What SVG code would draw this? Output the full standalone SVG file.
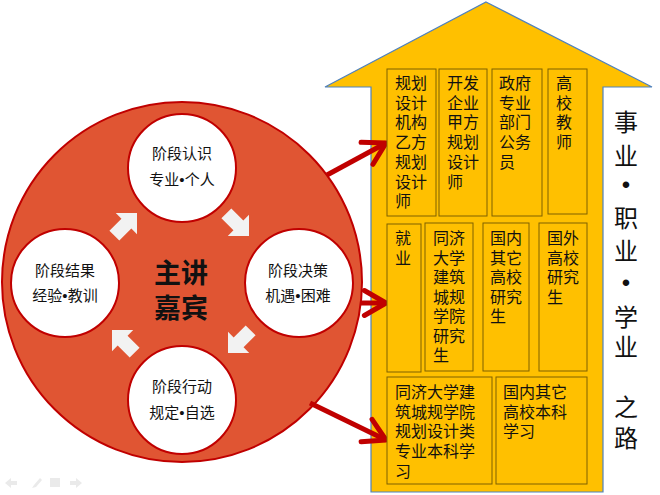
<svg xmlns="http://www.w3.org/2000/svg" width="660" height="495" viewBox="0 0 660 495">
<defs>
<style>
.cjk{font-family:"Noto Sans CJK SC","Noto Sans",sans-serif;fill:#111;}
.dot{font-family:"Liberation Sans","Noto Sans CJK SC",sans-serif;}
.circ{fill:#fff;stroke:#C00000;stroke-width:2;}
.ctext{font-size:15px;text-anchor:middle;}
.box{fill:#FFC000;stroke:#7F6000;stroke-width:1;}
.btext{font-size:16px;}
.side{font-size:24px;text-anchor:middle;}
.blk{fill:#F2F2F2;}
.red{stroke:#C00000;stroke-width:5;fill:none;marker-end:url(#ah);}
.ui{fill:#EAEAEA;}
</style>
<marker id="ah" markerUnits="userSpaceOnUse" viewBox="0 -16 32 32" refX="28" refY="0" markerWidth="32" markerHeight="32" orient="auto">
<path d="M6.4,-12.5 L28,0 L6.4,12.5" fill="none" stroke="#C00000" stroke-width="5" stroke-linejoin="round" stroke-linecap="round"/>
</marker>
<path id="blkArrow" d="M0,0 L-15,-15 L-15,-7 L-32,-7 L-32,7 L-15,7 L-15,15 Z"/>
</defs>
<rect width="660" height="495" fill="#fff"/>

<g id="house">
<polygon points="486,2 652,87 603,87 603,492 371,492 371,87 325,87" fill="#FFC000" stroke="#4F81BD" stroke-width="1.2"/>
</g>

<g id="hub">
<circle cx="182" cy="282" r="180" fill="#E05533" stroke="#C00000" stroke-width="2"/>
<text class="cjk" x="181" y="283" font-size="27" font-weight="bold" text-anchor="middle">主讲</text>
<text class="cjk" x="181" y="318" font-size="27" font-weight="bold" text-anchor="middle">嘉宾</text>
</g>

<g id="stage-recognize">
<circle class="circ" cx="182" cy="168" r="54"/>
<text class="cjk ctext" x="182" y="158.5">阶段认识</text>
<text class="cjk ctext" x="182" y="184.5">专业<tspan class="dot">•</tspan>个人</text>
</g>
<g id="stage-decide">
<circle class="circ" cx="299" cy="283" r="54"/>
<text class="cjk ctext" x="298" y="275.5">阶段决策</text>
<text class="cjk ctext" x="298" y="300.5">机遇<tspan class="dot">•</tspan>困难</text>
</g>
<g id="stage-act">
<circle class="circ" cx="182" cy="400" r="54"/>
<text class="cjk ctext" x="182" y="391.5">阶段行动</text>
<text class="cjk ctext" x="182" y="417.5">规定<tspan class="dot">•</tspan>自选</text>
</g>
<g id="stage-result">
<circle class="circ" cx="65" cy="283" r="54"/>
<text class="cjk ctext" x="65" y="275.5">阶段结果</text>
<text class="cjk ctext" x="65" y="300.5">经验<tspan class="dot">•</tspan>教训</text>
</g>

<g id="cycle-arrows">
<use href="#blkArrow" class="blk" transform="translate(137,213) rotate(-45)"/>
<use href="#blkArrow" class="blk" transform="translate(249,236) rotate(45)"/>
<use href="#blkArrow" class="blk" transform="translate(228,353) rotate(135)"/>
<use href="#blkArrow" class="blk" transform="translate(112,330) rotate(-135)"/>
</g>

<g id="connectors">
<line class="red" x1="327" y1="175" x2="386" y2="143"/>
<line class="red" x1="361" y1="303" x2="386" y2="303"/>
<line class="red" x1="310" y1="403" x2="386" y2="440"/>
</g>

<g id="box-planning-firm">
<rect class="box" x="387" y="69" width="49" height="147"/>
<text class="cjk btext" x="395" y="89"><tspan x="395">规划</tspan><tspan x="395" dy="19.7">设计</tspan><tspan x="395" dy="19.7">机构</tspan><tspan x="395" dy="19.7">乙方</tspan><tspan x="395" dy="19.7">规划</tspan><tspan x="395" dy="19.7">设计</tspan><tspan x="395" dy="19.7">师</tspan></text>
</g>
<g id="box-developer">
<rect class="box" x="439" y="69" width="48" height="147"/>
<text class="cjk btext" x="447" y="89"><tspan x="447">开发</tspan><tspan x="447" dy="19.7">企业</tspan><tspan x="447" dy="19.7">甲方</tspan><tspan x="447" dy="19.7">规划</tspan><tspan x="447" dy="19.7">设计</tspan><tspan x="447" dy="19.7">师</tspan></text>
</g>
<g id="box-government">
<rect class="box" x="492" y="69" width="50" height="147"/>
<text class="cjk btext" x="499" y="89"><tspan x="499">政府</tspan><tspan x="499" dy="19.7">专业</tspan><tspan x="499" dy="19.7">部门</tspan><tspan x="499" dy="19.7">公务</tspan><tspan x="499" dy="19.7">员</tspan></text>
</g>
<g id="box-teacher">
<rect class="box" x="548" y="69" width="39" height="145"/>
<text class="cjk btext" x="556" y="89"><tspan x="556">高</tspan><tspan x="556" dy="19.7">校</tspan><tspan x="556" dy="19.7">教</tspan><tspan x="556" dy="19.7">师</tspan></text>
</g>

<g id="box-employment">
<rect class="box" x="387" y="224" width="34" height="148"/>
<text class="cjk btext" x="395" y="244"><tspan x="395">就</tspan><tspan x="395" dy="19.5">业</tspan></text>
</g>
<g id="box-tongji-grad">
<rect class="box" x="425" y="223" width="48" height="148"/>
<text class="cjk btext" x="433" y="244"><tspan x="433">同济</tspan><tspan x="433" dy="19.5">大学</tspan><tspan x="433" dy="19.5">建筑</tspan><tspan x="433" dy="19.5">城规</tspan><tspan x="433" dy="19.5">学院</tspan><tspan x="433" dy="19.5">研究</tspan><tspan x="433" dy="19.5">生</tspan></text>
</g>
<g id="box-domestic-grad">
<rect class="box" x="483" y="223" width="46" height="148"/>
<text class="cjk btext" x="490" y="244"><tspan x="490">国内</tspan><tspan x="490" dy="19.5">其它</tspan><tspan x="490" dy="19.5">高校</tspan><tspan x="490" dy="19.5">研究</tspan><tspan x="490" dy="19.5">生</tspan></text>
</g>
<g id="box-foreign-grad">
<rect class="box" x="539" y="223" width="48" height="148"/>
<text class="cjk btext" x="547" y="244"><tspan x="547">国外</tspan><tspan x="547" dy="19.5">高校</tspan><tspan x="547" dy="19.5">研究</tspan><tspan x="547" dy="19.5">生</tspan></text>
</g>

<g id="box-tongji-undergrad">
<rect class="box" x="387" y="377" width="105" height="107"/>
<text class="cjk btext" x="395" y="398"><tspan x="395">同济大学建</tspan><tspan x="395" dy="19.7">筑城规学院</tspan><tspan x="395" dy="19.7">规划设计类</tspan><tspan x="395" dy="19.7">专业本科学</tspan><tspan x="395" dy="19.7">习</tspan></text>
</g>
<g id="box-domestic-undergrad">
<rect class="box" x="496" y="377" width="91" height="107"/>
<text class="cjk btext" x="503" y="398"><tspan x="503">国内其它</tspan><tspan x="503" dy="19.7">高校本科</tspan><tspan x="503" dy="19.7">学习</tspan></text>
</g>

<g id="side-title">
<text class="cjk side" x="626" y="131">事</text>
<text class="cjk side" x="626" y="165">业</text>
<text class="cjk side dot" x="626" y="193">•</text>
<text class="cjk side" x="626" y="227">职</text>
<text class="cjk side" x="626" y="260">业</text>
<text class="cjk side dot" x="626" y="291">•</text>
<text class="cjk side" x="626" y="326">学</text>
<text class="cjk side" x="626" y="356">业</text>
<text class="cjk side" x="626" y="416">之</text>
<text class="cjk side" x="626" y="447">路</text>
</g>

<g id="slide-controls">
<polygon class="ui" points="5,483 11,478 11,481 17,481 17,485 11,485 11,488"/>
<polygon class="ui" points="32,488 34,485 40,478 42,480 36,487"/>
<rect class="ui" x="50" y="478" width="10" height="9"/>
<polygon class="ui" points="82,483 76,478 76,481 70,481 70,485 76,485 76,488"/>
</g>
</svg>
